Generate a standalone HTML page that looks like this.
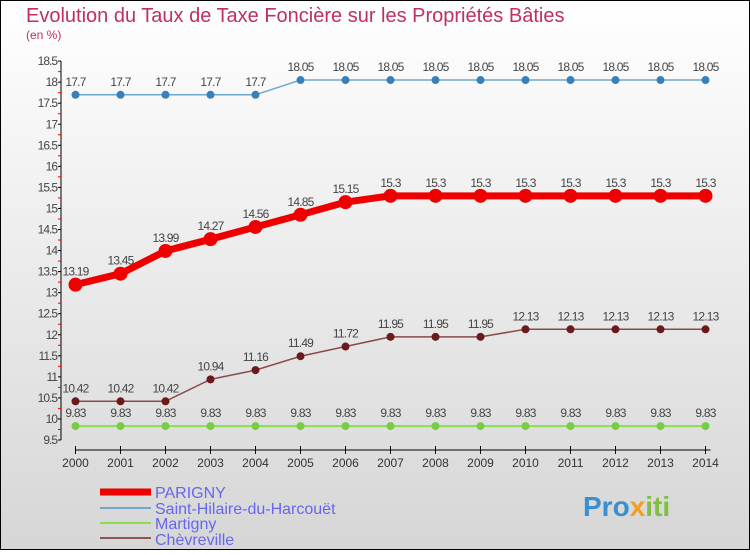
<!DOCTYPE html>
<html><head><meta charset="utf-8"><style>
body{margin:0}
#c{width:750px;height:550px;position:relative;font-family:"Liberation Sans",sans-serif}
</style></head><body>
<div id="c">
<svg id="s" width="750" height="550" xmlns="http://www.w3.org/2000/svg">
<defs><linearGradient id="bg" x1="0" y1="0" x2="0" y2="1"><stop offset="0" stop-color="#ffffff"/><stop offset="1" stop-color="#d6d6d6"/></linearGradient></defs>
<rect x="0.5" y="0.5" width="749" height="549" fill="url(#bg)" stroke="#000"/>
<text x="26" y="22" font-size="20" fill="#c0305a">Evolution du Taux de Taxe Foncière sur les Propriétés Bâties</text>
<text x="26" y="39" font-size="12" fill="#c0305a">(en %)</text>
<g id="axes"></g><g id="series"></g>
<g>
<line x1="100" y1="492" x2="151" y2="492" stroke="#e00" stroke-width="7"/>
<text x="155" y="498" font-size="16" fill="#6666ee">PARIGNY</text>
<line x1="100" y1="508" x2="151" y2="508" stroke="#6fa8d0" stroke-width="2"/>
<text x="155" y="514" font-size="16" fill="#6666ee">Saint-Hilaire-du-Harcouët</text>
<line x1="100" y1="523" x2="151" y2="523" stroke="#88dd55" stroke-width="2"/>
<text x="155" y="529" font-size="16" fill="#6666ee">Martigny</text>
<line x1="100" y1="538" x2="151" y2="538" stroke="#8b5555" stroke-width="2"/>
<text x="155" y="545" font-size="16" fill="#6666ee">Chèvreville</text>
</g>
<text x="583" y="516" font-size="28" font-weight="bold" fill="#3a8fd0">Pro<tspan fill="#f0a020">x</tspan><tspan fill="#80c040">iti</tspan></text>
</svg>
</div>
<script>
const years=[2000,2001,2002,2003,2004,2005,2006,2007,2008,2009,2010,2011,2012,2013,2014];
const yTicks=[9.5,10,10.5,11,11.5,12,12.5,13,13.5,14,14.5,15,15.5,16,16.5,17,17.5,18,18.5];
const parigny=[13.19,13.45,13.99,14.27,14.56,14.85,15.15,15.3,15.3,15.3,15.3,15.3,15.3,15.3,15.3];
const sainthilaire=[17.7,17.7,17.7,17.7,17.7,18.05,18.05,18.05,18.05,18.05,18.05,18.05,18.05,18.05,18.05];
const martigny=[9.83,9.83,9.83,9.83,9.83,9.83,9.83,9.83,9.83,9.83,9.83,9.83,9.83,9.83,9.83];
const chevreville=[10.42,10.42,10.42,10.94,11.16,11.49,11.72,11.95,11.95,11.95,12.13,12.13,12.13,12.13,12.13];
const NS="http://www.w3.org/2000/svg";
const X=y=>75.5+(y-2000)*45;
const Y=v=>440-(v-9.5)*42.1;
function el(t,a,p){const e=document.createElementNS(NS,t);for(const k in a)e.setAttribute(k,a[k]);p.appendChild(e);return e;}
const ax=document.getElementById('axes'),sg=document.getElementById('series');
const yl=el('line',{x1:61,y1:Y(18.5),x2:61,y2:Y(9.5),stroke:'#000'},ax);


yTicks.forEach(v=>{
 el('line',{x1:58,y1:Y(v),x2:61,y2:Y(v),stroke:'#000'},ax);
 if(v<18.5) el('line',{x1:58,y1:Y(v+0.25),x2:61,y2:Y(v+0.25),stroke:'#e00'},ax);
 const t=el('text',{x:57,y:Y(v)+4,'font-size':12,'text-anchor':'end',fill:'#444','letter-spacing':'-1'},ax);
 t.textContent=v;
 
 
});
const xl=el('line',{x1:X(2000),y1:450,x2:X(2014)+5,y2:450,stroke:'#000'},ax);


years.forEach(y=>{
 el('line',{x1:X(y),y1:446,x2:X(y),y2:454,stroke:'#000'},ax);
 const t=el('text',{x:X(y),y:467,'font-size':12,'text-anchor':'middle',fill:'#333'},ax);
 t.textContent=y;
 
 
});
function series(name,vals,color,w,r,dot){
 const g=el('g',{},sg);
 
 
 el('polyline',{points:vals.map((v,i)=>X(years[i])+','+Y(v)).join(' '),fill:'none',stroke:color,'stroke-width':w},g);
 vals.forEach((v,i)=>{
  const c=el('circle',{cx:X(years[i]),cy:Y(v),r:r,fill:dot},g);
  
  
  const t=el('text',{x:X(years[i]),y:Y(v)-9,'font-size':12,'text-anchor':'middle',fill:'#444','letter-spacing':'-0.8'},g);
  t.textContent=v;
  
  
 });
}
series('martigny',martigny,'#88dd55',2,4,'#77cc44');
series('chevreville',chevreville,'#8b4a4a',1.5,4,'#6a1a1a');
series('saint-hilaire',sainthilaire,'#6fa8d0',1.5,4,'#3a80b8');
series('parigny',parigny,'#ee0000',7,7,'#ee0000');
</script>
</body></html>
